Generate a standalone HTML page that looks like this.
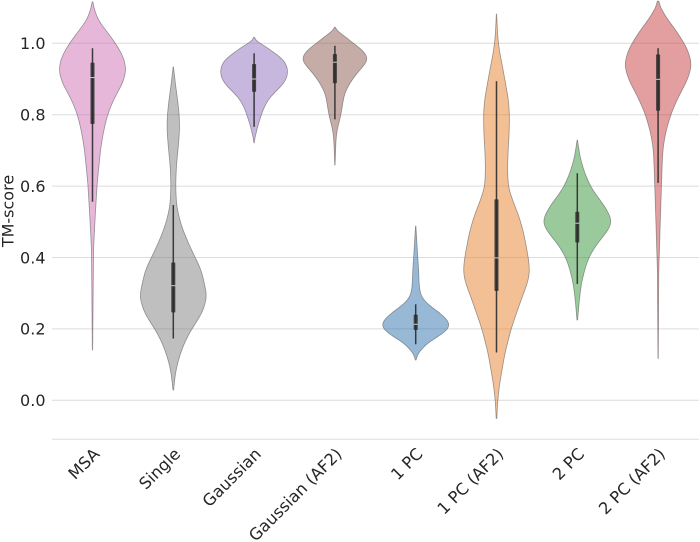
<!DOCTYPE html>
<html>
<head>
<meta charset="utf-8">
<style>
html,body{margin:0;padding:0;background:#fff;}
svg{display:block;}
text{font-family:"DejaVu Sans","Liberation Sans",sans-serif;fill:#262626;}
</style>
</head>
<body>
<svg id="chart" xmlns="http://www.w3.org/2000/svg" width="700" height="542" viewBox="0 0 700 542"></svg>
<script>
const categories = ["MSA","Single","Gaussian","Gaussian (AF2)","1 PC","1 PC (AF2)","2 PC","2 PC (AF2)"];
const yTicks = [0.0,0.2,0.4,0.6,0.8,1.0];
const yTickLabels = ["0.0","0.2","0.4","0.6","0.8","1.0"];
const axisTitle = "TM-score";

const msaTm = [1.116,1.093,1.065,1.037,1.000,0.963,0.925,0.888,0.850,0.801,0.748,0.701,0.608,0.514,0.421,0.141];
const msaDensity = [1,6,16,40,69,93,102,91,67,45,32,24,14,8,3,0.5];
const singleTm = [0.934,0.888,0.841,0.799,0.757,0.710,0.654,0.598,0.542,0.486,0.430,0.365,0.290,0.243,0.201,0.159,0.113,0.075,0.029];
const singleDensity = [0.5,6,13,18,19,15,9,7,10,25,50,84,102,86,56,32,15,6,1];
const gaussianTm = [1.017,1.005,0.991,0.972,0.953,0.925,0.897,0.874,0.850,0.822,0.801,0.766,0.738,0.721];
const gaussianDensity = [1,8,32,64,94,103,99,76,46,30,22,10,3,0.5];
const gaussianAf2Tm = [1.045,1.033,1.009,0.981,0.955,0.930,0.897,0.860,0.822,0.794,0.757,0.729,0.659];
const gaussianAf2Density = [1,9,42,85,108,78,50,28,22,17,6,3,0.5];
const onePcTm = [0.488,0.449,0.402,0.365,0.327,0.290,0.271,0.253,0.229,0.208,0.187,0.169,0.150,0.131,0.113];
const onePcDensity = [0.5,3,6,9,10,14,30,62,94,112,86,46,20,7,1];
const onePcAf2Tm = [1.082,1.028,0.981,0.935,0.888,0.841,0.801,0.748,0.701,0.654,0.598,0.561,0.514,0.467,0.402,0.365,0.337,0.271,0.201,0.131,0.038,-0.009,-0.051];
const onePcAf2Density = [0.5,3,8,18,27,36,39,38,35,33,35,48,68,82,95,100,96,70,44,25,8,3,1];
const twoPcTm = [0.729,0.682,0.636,0.589,0.552,0.524,0.497,0.467,0.430,0.393,0.365,0.327,0.271,0.225];
const twoPcDensity = [0.5,8,22,45,76,95,107,85,52,31,22,12,5,1];
const twoPcAf2Tm = [1.118,1.093,1.065,1.028,0.981,0.939,0.897,0.850,0.801,0.748,0.701,0.654,0.598,0.514,0.421,0.365,0.117];
const twoPcAf2Density = [2,10,30,60,90,102,88,61,38,22,14,12,10,7,4,2,0.5];

const whiskerLow = [0.556,0.173,0.766,0.787,0.157,0.134,0.326,0.609];
const quartile1 = [0.774,0.246,0.864,0.888,0.197,0.306,0.442,0.811];
const median = [0.904,0.321,0.900,0.947,0.213,0.399,0.496,0.899];
const quartile3 = [0.946,0.386,0.942,0.970,0.240,0.563,0.528,0.969];
const whiskerHigh = [0.986,0.547,0.972,0.993,0.269,0.894,0.636,0.986];

const allTm = [msaTm,singleTm,gaussianTm,gaussianAf2Tm,onePcTm,onePcAf2Tm,twoPcTm,twoPcAf2Tm];
const allDensity = [msaDensity,singleDensity,gaussianDensity,gaussianAf2Density,onePcDensity,onePcAf2Density,twoPcDensity,twoPcAf2Density];

const fillColors = ["#d070b4","#7f7f7f","#8f6fbe","#8c5a50","#2f74ae","#e8812c","#35963a","#c73d40"];
const NS = "http://www.w3.org/2000/svg";
const svg = document.getElementById("chart");

function yScale(v){ return 400.3 - 357 * v; }
function xScale(i){ return 92.5 + 80.8 * i; }
function wScale(d){ return d / 3; }

function make(tag, attrs, parent){
  const el = document.createElementNS(NS, tag);
  for (const k in attrs) el.setAttribute(k, attrs[k]);
  (parent || svg).appendChild(el);
  return el;
}
function slug(s){ return s.toLowerCase().replace(/[^a-z0-9]+/g,"-").replace(/-$/,""); }

// Half-width outline: piecewise-linear density in screen y, sampled each pixel, then Gaussian smoothed like a KDE.
function outline(tm, den){
  const ys = tm.map(yScale);
  const top = ys[0], bot = ys[ys.length-1];
  const n = Math.ceil(bot - top);
  const raw = [];
  let seg = 0;
  for (let k = 0; k <= n; k++){
    const y = top + (bot - top) * k / n;
    while (seg < ys.length - 2 && y > ys[seg+1]) seg++;
    const t = (y - ys[seg]) / (ys[seg+1] - ys[seg]);
    raw.push(den[seg] + (den[seg+1] - den[seg]) * t);
  }
  const sigma = 5.5;
  const out = [];
  for (let k = 0; k <= n; k++){
    // shrink the kernel near the tips so the violin ends keep their length
    const s = Math.max(0.5, Math.min(sigma, Math.min(k, n-k) / 2));
    let sum = 0, w = 0;
    for (let o = -Math.ceil(3*s); o <= Math.ceil(3*s); o++){
      const idx = k + o;
      if (idx < 0 || idx > n) continue;
      const g = Math.exp(-o*o/(2*s*s));
      sum += raw[idx] * g; w += g;
    }
    out.push([sum / w, top + (bot - top) * k / n]);
  }
  return out;
}

// gridlines
yTicks.forEach(function(t){
  const line = make("line",{x1:52,x2:699,y1:yScale(t),y2:yScale(t),stroke:"#dcdcdc","stroke-width":1});
  
  
});
const baseline = make("line",{x1:52,x2:699,y1:439.3,y2:439.3,stroke:"#dedede","stroke-width":1});



// y tick labels
yTicks.forEach(function(t,i){
  const label = make("text",{x:45.5,y:yScale(t)+5.8,"text-anchor":"end","font-size":16});
  label.textContent = yTickLabels[i];
  
  
});

// y axis title
const title = make("text",{transform:"translate(13.5,211) rotate(-90)","text-anchor":"middle","font-size":16});
title.textContent = axisTitle;



// violins
categories.forEach(function(cat,i){
  const cx = xScale(i);
  const g = make("g",{});
  
  

  const pts = outline(allTm[i], allDensity[i]);
  let d = "";
  pts.forEach(function(p,k){ d += (k ? "L" : "M") + (cx + wScale(p[0])).toFixed(2) + " " + p[1].toFixed(2); });
  pts.slice().reverse().forEach(function(p){ d += "L" + (cx - wScale(p[0])).toFixed(2) + " " + p[1].toFixed(2); });
  d += "Z";
  const body = make("path",{d:d,fill:fillColors[i],"fill-opacity":0.5,stroke:"#5a5a5a","stroke-opacity":0.6,"stroke-width":0.8,"stroke-linejoin":"round"},g);
  
  

  const whisker = make("line",{x1:cx,x2:cx,y1:yScale(whiskerLow[i]),y2:yScale(whiskerHigh[i]),stroke:"#2b2b2b","stroke-opacity":0.9,"stroke-width":1.5},g);
  
  

  const box = make("rect",{x:cx-2,width:4,y:yScale(quartile3[i]),height:yScale(quartile1[i])-yScale(quartile3[i]),rx:0.8,fill:"#2b2b2b","fill-opacity":0.85},g);
  
  

  const med = make("line",{x1:cx-2,x2:cx+2,y1:yScale(median[i]),y2:yScale(median[i]),stroke:"#ffffff","stroke-opacity":0.75,"stroke-width":1},g);
  
  

  const label = make("text",{transform:"translate(" + (cx+8) + ",455) rotate(-45)","text-anchor":"end","font-size":16.3});
  label.textContent = cat;
  
  
});
</script>
</body>
</html>
